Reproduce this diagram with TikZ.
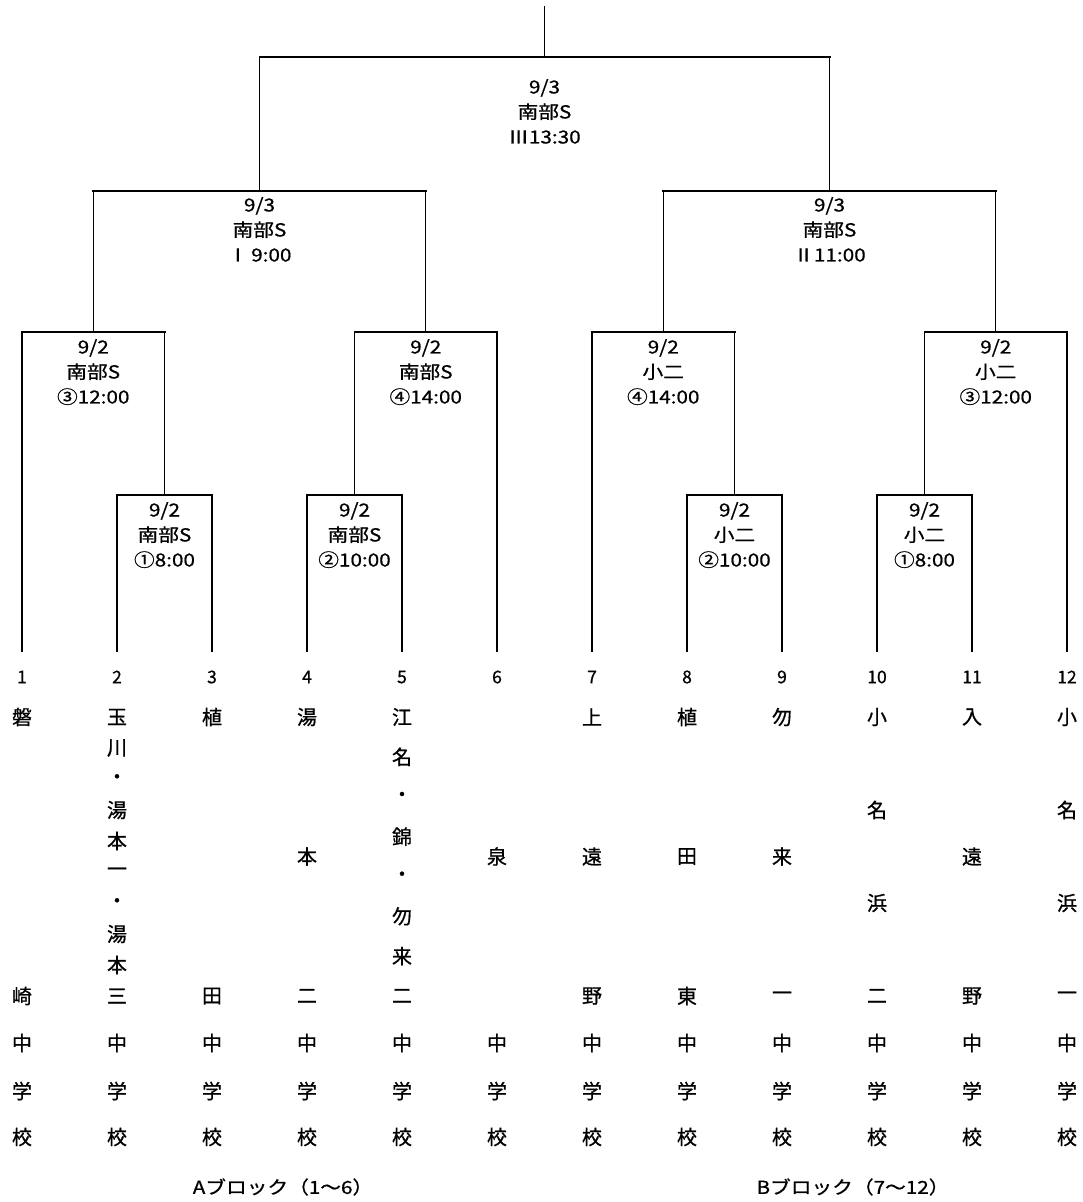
\documentclass[tikz,border=0pt]{standalone}
\usepackage{fontspec}
\setmainfont[FakeBold=0.8]{Noto Sans CJK JP}
\newfontfamily\jpwide[FakeStretch=1.15, FakeBold=0.8]{Noto Sans CJK JP}
\usetikzlibrary{positioning}

\tikzset{
  hline/.style={line width=2pt, line cap=rect},
  vline/.style={line width=1.3pt},
  matchlbl/.style={font=\jpwide\fontsize{18}{25}\selectfont, align=center,
    anchor=north, inner sep=0pt},
  seednum/.style={font=\fontsize{17.5}{17.5}\selectfont, inner sep=0pt},
  kanji/.style={font=\fontsize{20}{20}\selectfont, inner sep=0pt},
  blocklbl/.style={font=\jpwide\fontsize{18}{18}\selectfont, inner sep=0pt}
}

\begin{document}
\begin{tikzpicture}[x=1pt, y=-1pt]
\useasboundingbox (0,0) rectangle (1083,1202);

% team ends and match points
\foreach \i in {1,...,12}
  \coordinate (t\i) at ({22+95*(\i-1)},652);
\coordinate (m1) at (164.5,495);
\coordinate (m2) at (354.5,495);
\coordinate (m3) at (734.5,495);
\coordinate (m4) at (924.5,495);
\coordinate (q1) at (93.25,332);
\coordinate (q2) at (425.75,332);
\coordinate (q3) at (663.25,332);
\coordinate (q4) at (995.75,332);
\coordinate (s1) at (259.5,191);
\coordinate (s2) at (829.5,191);
\coordinate (f) at (544.5,57);
\coordinate (top) at (544.5,6);

% bracket lines
\foreach \a/\b/\m in {t2/t3/m1, t4/t5/m2, t8/t9/m3, t10/t11/m4,
    t1/m1/q1, m2/t6/q2, t7/m3/q3, m4/t12/q4, q1/q2/s1, q3/q4/s2, s1/s2/f} {
  \draw[vline] (\a) -- (\a |- \m);
  \draw[vline] (\b) -- (\b |- \m);
  \draw[hline] (\a |- \m) -- (\b |- \m);
}
\draw[vline] (f) -- (top);

% match labels
\node[matchlbl] (lf) at ([yshift=-22pt]f) {9/3\\南部S\\Ⅲ13:30};
\node[matchlbl] (ls1) at ([yshift=-6pt]s1) {9/3\\南部S\\Ⅰ\,9:00};
\node[matchlbl] (ls2) at ([yshift=-6pt]s2) {9/3\\南部S\\Ⅱ11:00};
\node[matchlbl] (lq1) at ([yshift=-7pt]q1) {9/2\\南部S\\③12:00};
\node[matchlbl] (lq2) at ([yshift=-7pt]q2) {9/2\\南部S\\④14:00};
\node[matchlbl] (lq3) at ([yshift=-7pt]q3) {9/2\\小二\\④14:00};
\node[matchlbl] (lq4) at ([yshift=-7pt]q4) {9/2\\小二\\③12:00};
\node[matchlbl] (lm1) at ([yshift=-7pt]m1) {9/2\\南部S\\①8:00};
\node[matchlbl] (lm2) at ([yshift=-7pt]m2) {9/2\\南部S\\②10:00};
\node[matchlbl] (lm3) at ([yshift=-7pt]m3) {9/2\\小二\\②10:00};
\node[matchlbl] (lm4) at ([yshift=-7pt]m4) {9/2\\小二\\①8:00};

% seeds and school names
\foreach \c in {1,...,12} {
  \node[seednum] (num\c) at (t\c |- 0,677) {\c};
  \node[kanji] (chu\c) at (t\c |- 0,1043) {中};
  \node[kanji] (gaku\c) at (t\c |- 0,1091) {学};
  \node[kanji] (kou\c) at (t\c |- 0,1137) {校};
}
\foreach \c/\n/\s in {1/2/{磐,崎}, 2/10/{玉,川,・,湯,本,一,・,湯,本,三},
    3/2/{植,田}, 4/3/{湯,本,二}, 5/8/{江,名,・,錦,・,勿,来,二}, 6/1/{泉},
    7/3/{上,遠,野}, 8/3/{植,田,東}, 9/3/{勿,来,一}, 10/4/{小,名,浜,二},
    11/3/{入,遠,野}, 12/4/{小,名,浜,一}}
  \foreach \ch [count=\k] in \s
    \node[kanji] (name\c-\k) at
      (t\c |- 0,{717+(\k-1)*279/max(\n-1,1)+(\n==1)*139.5}) {\ch};

% blocks
\node[blocklbl] (blockA) at (283,1187) {Aブロック（1～6）};
\node[blocklbl] (blockB) at (853,1187) {Bブロック（7～12）};
\end{tikzpicture}
\end{document}
